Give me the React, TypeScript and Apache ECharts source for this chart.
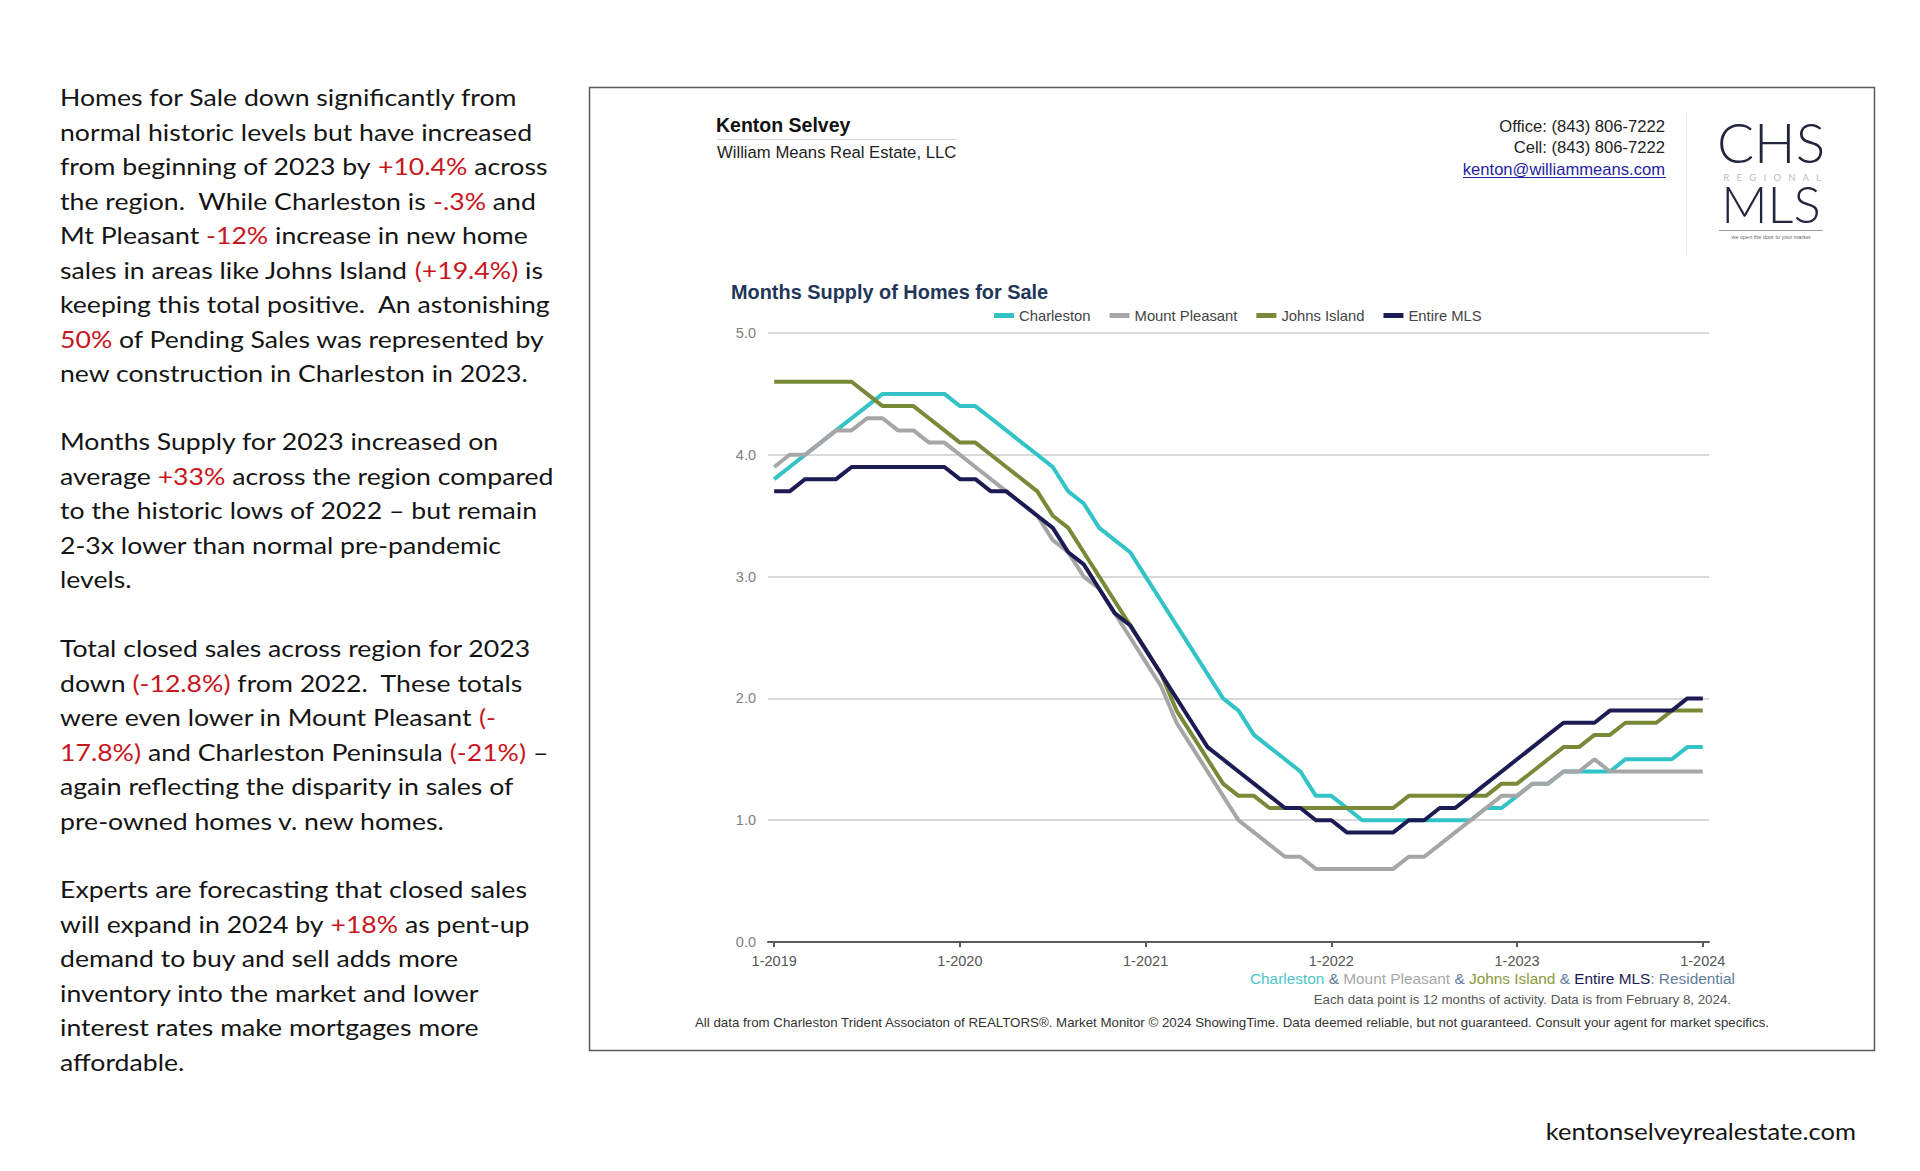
import React, { useEffect, useRef } from "react";
import * as echarts from "echarts";

const xTickIndex = [0, 12, 24, 36, 48, 60];
const xTickLabels = ["1-2019", "1-2020", "1-2021", "1-2022", "1-2023", "1-2024"];
const seriesNames = ["Charleston", "Mount Pleasant", "Johns Island", "Entire MLS"];
const seriesColors = ["#31c3c6", "#a6a6a6", "#788a38", "#1c1b54"];

const charleston = [
  3.8, 3.9, 4.0, 4.1, 4.2, 4.3, 4.4, 4.5, 4.5, 4.5, 4.5, 4.5,
  4.4, 4.4, 4.3, 4.2, 4.1, 4.0, 3.9, 3.7, 3.6, 3.4, 3.3, 3.2,
  3.0, 2.8, 2.6, 2.4, 2.2, 2.0, 1.9, 1.7, 1.6, 1.5, 1.4, 1.2,
  1.2, 1.1, 1.0, 1.0, 1.0, 1.0, 1.0, 1.0, 1.0, 1.0, 1.1, 1.1,
  1.2, 1.3, 1.3, 1.4, 1.4, 1.4, 1.4, 1.5, 1.5, 1.5, 1.5, 1.6,
  1.6,
];
const mountPleasant = [
  3.9, 4.0, 4.0, 4.1, 4.2, 4.2, 4.3, 4.3, 4.2, 4.2, 4.1, 4.1,
  4.0, 3.9, 3.8, 3.7, 3.6, 3.5, 3.3, 3.2, 3.0, 2.9, 2.7, 2.5,
  2.3, 2.1, 1.8, 1.6, 1.4, 1.2, 1.0, 0.9, 0.8, 0.7, 0.7, 0.6,
  0.6, 0.6, 0.6, 0.6, 0.6, 0.7, 0.7, 0.8, 0.9, 1.0, 1.1, 1.2,
  1.2, 1.3, 1.3, 1.4, 1.4, 1.5, 1.4, 1.4, 1.4, 1.4, 1.4, 1.4,
  1.4,
];
const johnsIsland = [
  4.6, 4.6, 4.6, 4.6, 4.6, 4.6, 4.5, 4.4, 4.4, 4.4, 4.3, 4.2,
  4.1, 4.1, 4.0, 3.9, 3.8, 3.7, 3.5, 3.4, 3.2, 3.0, 2.8, 2.6,
  2.4, 2.2, 1.9, 1.7, 1.5, 1.3, 1.2, 1.2, 1.1, 1.1, 1.1, 1.1,
  1.1, 1.1, 1.1, 1.1, 1.1, 1.2, 1.2, 1.2, 1.2, 1.2, 1.2, 1.3,
  1.3, 1.4, 1.5, 1.6, 1.6, 1.7, 1.7, 1.8, 1.8, 1.8, 1.9, 1.9,
  1.9,
];
const entireMLS = [
  3.7, 3.7, 3.8, 3.8, 3.8, 3.9, 3.9, 3.9, 3.9, 3.9, 3.9, 3.9,
  3.8, 3.8, 3.7, 3.7, 3.6, 3.5, 3.4, 3.2, 3.1, 2.9, 2.7, 2.6,
  2.4, 2.2, 2.0, 1.8, 1.6, 1.5, 1.4, 1.3, 1.2, 1.1, 1.1, 1.0,
  1.0, 0.9, 0.9, 0.9, 0.9, 1.0, 1.0, 1.1, 1.1, 1.2, 1.3, 1.4,
  1.5, 1.6, 1.7, 1.8, 1.8, 1.8, 1.9, 1.9, 1.9, 1.9, 1.9, 2.0,
  2.0,
];
const allSeries = [charleston, mountPleasant, johnsIsland, entireMLS];

const paragraphs = [
  [
    "Homes for Sale down significantly from",
    "normal historic levels but have increased",
    "from beginning of 2023 by {r|+10.4%} across",
    "the region.  While Charleston is {r|-.3%} and",
    "Mt Pleasant {r|-12%} increase in new home",
    "sales in areas like Johns Island {r|(+19.4%)} is",
    "keeping this total positive.  An astonishing",
    "{r|50%} of Pending Sales was represented by",
    "new construction in Charleston in 2023.",
  ],
  [
    "Months Supply for 2023 increased on",
    "average {r|+33%} across the region compared",
    "to the historic lows of 2022 \u2013 but remain",
    "2-3x lower than normal pre-pandemic",
    "levels.",
  ],
  [
    "Total closed sales across region for 2023",
    "down {r|(-12.8%)} from 2022.  These totals",
    "were even lower in Mount Pleasant {r|(-}",
    "{r|17.8%)} and Charleston Peninsula {r|(-21%)} \u2013",
    "again reflecting the disparity in sales of",
    "pre-owned homes v. new homes.",
  ],
  [
    "Experts are forecasting that closed sales",
    "will expand in 2024 by {r|+18%} as pent-up",
    "demand to buy and sell adds more",
    "inventory into the market and lower",
    "interest rates make mortgages more",
    "affordable.",
  ],
];
const paragraphTops = [97, 441, 648, 889];

const ARIAL = "'Liberation Sans', Arial, sans-serif";
const BODY = "Lato, 'Open Sans', sans-serif";

export default function App() {
  const ref = useRef<HTMLDivElement>(null);

  useEffect(() => {
    if (!ref.current) return;
    const chart = echarts.init(ref.current, undefined, { renderer: "svg" });

    const graphics: any[] = [];
    paragraphs.forEach((lines, p) => {
      lines.forEach((line, i) => {
        graphics.push({
          type: "text",
          x: 60,
          y: paragraphTops[p] + i * 34.45,
          scaleX: 1.11,
          style: {
            text: line,
            fill: "#141414",
            fontSize: 24,
            fontFamily: BODY,
            verticalAlign: "middle",
            textAlign: "left",
            rich: {
              r: { fill: "#c8161d", fontSize: 24, fontFamily: BODY },
            },
          },
        });
      });
    });

    const contact = (text: string, y: number, fill: string) => ({
      type: "text",
      x: 1665,
      y,
      style: {
        text,
        fill,
        fontSize: 16.6,
        fontFamily: ARIAL,
        verticalAlign: "middle",
        textAlign: "right",
      },
    });

    graphics.push(
      {
        type: "rect",
        shape: { x: 589.5, y: 87.5, width: 1285, height: 963 },
        style: { fill: "none", stroke: "#5a5a5a", lineWidth: 1.5 },
      },
      {
        type: "text",
        x: 716,
        y: 125,
        style: {
          text: "Kenton Selvey",
          fill: "#111",
          fontSize: 19.5,
          fontWeight: "bold",
          fontFamily: ARIAL,
          verticalAlign: "middle",
        },
      },
      {
        type: "line",
        shape: { x1: 717, y1: 139.5, x2: 957, y2: 139.5 },
        style: { stroke: "#d4d4d4", lineWidth: 1 },
      },
      {
        type: "text",
        x: 717,
        y: 152,
        style: {
          text: "William Means Real Estate, LLC",
          fill: "#222",
          fontSize: 16.7,
          fontFamily: ARIAL,
          verticalAlign: "middle",
        },
      },
      contact("Office: (843) 806-7222", 126, "#222"),
      contact("Cell: (843) 806-7222", 147, "#222"),
      contact("kenton@williammeans.com", 169, "#1f22a3"),
      {
        type: "line",
        shape: { x1: 1463, y1: 177.5, x2: 1666, y2: 177.5 },
        style: { stroke: "#1f22a3", lineWidth: 1 },
      },
      {
        type: "line",
        shape: { x1: 1686.5, y1: 113, x2: 1686.5, y2: 255 },
        style: { stroke: "#ececec", lineWidth: 1 },
      },
      {
        type: "text",
        x: 1771,
        y: 142,
        style: {
          text: "CHS",
          fill: "#23253f",
          fontSize: 55,
          fontWeight: 300,
          fontFamily: BODY,
          verticalAlign: "middle",
          textAlign: "center",
        },
      },
      {
        type: "text",
        x: 1772,
        y: 177,
        style: {
          text: "R   E   G   I   O   N   A   L",
          fill: "#bdbdbd",
          fontSize: 9.5,
          fontFamily: BODY,
          verticalAlign: "middle",
          textAlign: "center",
        },
      },
      {
        type: "text",
        x: 1771,
        y: 203,
        style: {
          text: "MLS",
          fill: "#23253f",
          fontSize: 51,
          fontWeight: 300,
          fontFamily: BODY,
          verticalAlign: "middle",
          textAlign: "center",
        },
      },
      {
        type: "line",
        shape: { x1: 1719, y1: 230.5, x2: 1823, y2: 230.5 },
        style: { stroke: "#9a9a9a", lineWidth: 1 },
      },
      {
        type: "text",
        x: 1771,
        y: 237,
        style: {
          text: "we open the door to your market",
          fill: "#666",
          fontSize: 5.5,
          fontFamily: ARIAL,
          verticalAlign: "middle",
          textAlign: "center",
        },
      },
      {
        type: "text",
        x: 731,
        y: 292,
        style: {
          text: "Months Supply of Homes for Sale",
          fill: "#1f3658",
          fontSize: 19.9,
          fontWeight: "bold",
          fontFamily: ARIAL,
          verticalAlign: "middle",
        },
      },
      {
        type: "text",
        x: 1735,
        y: 978,
        style: {
          text:
            "{c|Charleston} {a|&} {m|Mount Pleasant} {a|&} {j|Johns Island} {a|&} {e|Entire MLS}{a|: Residential}",
          fontSize: 15.4,
          fontFamily: ARIAL,
          verticalAlign: "middle",
          textAlign: "right",
          fill: "#5f7d9a",
          rich: {
            c: { fill: "#4cc6c8", fontSize: 15.4, fontFamily: ARIAL },
            m: { fill: "#a8a8a8", fontSize: 15.4, fontFamily: ARIAL },
            j: { fill: "#8a9a3e", fontSize: 15.4, fontFamily: ARIAL },
            e: { fill: "#1c1b54", fontSize: 15.4, fontFamily: ARIAL },
            a: { fill: "#5f7d9a", fontSize: 15.4, fontFamily: ARIAL },
          },
        },
      },
      {
        type: "text",
        x: 1731,
        y: 999,
        style: {
          text: "Each data point is 12 months of activity. Data is from February 8, 2024.",
          fill: "#555",
          fontSize: 13.3,
          fontFamily: ARIAL,
          verticalAlign: "middle",
          textAlign: "right",
        },
      },
      {
        type: "text",
        x: 1232,
        y: 1022,
        style: {
          text:
            "All data from Charleston Trident Associaton of REALTORS\u00ae. Market Monitor \u00a9 2024 ShowingTime. Data deemed reliable, but not guaranteed. Consult your agent for market specifics.",
          fill: "#333",
          fontSize: 13.3,
          fontFamily: ARIAL,
          verticalAlign: "middle",
          textAlign: "center",
        },
      },
      {
        type: "text",
        x: 1856,
        y: 1131,
        scaleX: 1.11,
        style: {
          text: "kentonselveyrealestate.com",
          fill: "#141414",
          fontSize: 23,
          fontFamily: BODY,
          verticalAlign: "middle",
          textAlign: "right",
        },
      }
    );

    chart.setOption({
      animation: false,
      backgroundColor: "#ffffff",
      textStyle: { fontFamily: ARIAL },
      grid: { left: 768, top: 333, width: 941, height: 609, containLabel: false },
      legend: {
        left: 989,
        top: 303,
        icon: "rect",
        itemWidth: 20,
        itemHeight: 5,
        itemGap: 19,
        selectedMode: false,
        data: seriesNames,
        textStyle: { fontSize: 14.8, color: "#444", fontFamily: ARIAL },
      },
      xAxis: {
        type: "value",
        min: -0.4,
        max: 60.4,
        splitLine: { show: false },
        axisLine: { show: true, lineStyle: { color: "#5a5a5a", width: 2 } },
        axisTick: {
          show: true,
          customValues: xTickIndex,
          length: 5,
          lineStyle: { color: "#5a5a5a", width: 2 },
        },
        axisLabel: {
          customValues: xTickIndex,
          color: "#555",
          fontSize: 14.5,
          margin: 11,
          fontFamily: ARIAL,
          formatter: (v: number) => xTickLabels[xTickIndex.indexOf(Math.round(v))] ?? "",
        },
      },
      yAxis: {
        type: "value",
        min: 0,
        max: 5,
        interval: 1,
        axisLine: { show: false },
        axisTick: { show: false },
        splitLine: { show: true, lineStyle: { color: "#cdcdcd", width: 1.5 } },
        axisLabel: {
          color: "#808080",
          fontSize: 14.5,
          margin: 12,
          fontFamily: ARIAL,
          formatter: (v: number) => v.toFixed(1),
        },
      },
      series: allSeries.map((vals, k) => ({
        name: seriesNames[k],
        type: "line",
        symbol: "none",
        color: seriesColors[k],
        lineStyle: { color: seriesColors[k], width: 4 },
        data: vals.map((v, i) => [i, v]),
        z: 2 + k,
      })),
      graphic: { elements: graphics },
    });

    return () => chart.dispose();
  }, []);

  return (
    <div
      ref={ref}
      style={{ position: "absolute", left: 0, top: 0, width: 1920, height: 1171, background: "#fff" }}
    />
  );
}
